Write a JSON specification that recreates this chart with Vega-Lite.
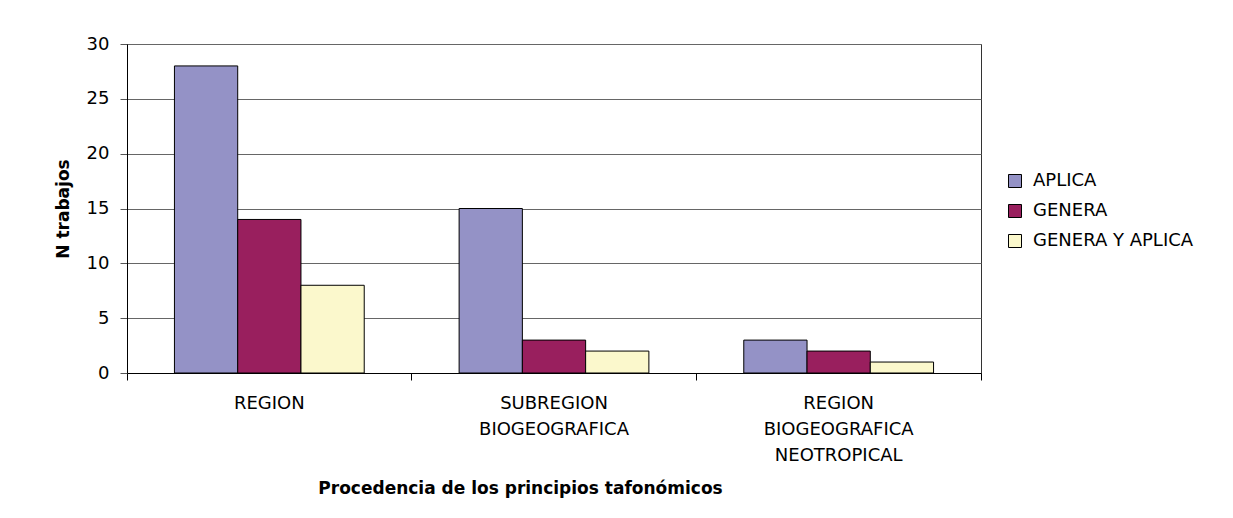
{
  "$schema": "https://vega.github.io/schema/vega-lite/v6.json",
  "width": 854,
  "height": 329,
  "autosize": {"type": "none"},
  "padding": {"left": 127, "top": 44, "right": 252, "bottom": 145},
  "background": "white",
  "config": {
    "font": "DejaVu Sans",
    "view": {"stroke": "#333333", "strokeWidth": 1}
  },
  "data": {
    "values": [
      {"procedencia": "REGION", "tipo": "APLICA", "n": 28},
      {"procedencia": "REGION", "tipo": "GENERA", "n": 14},
      {"procedencia": "REGION", "tipo": "GENERA Y APLICA", "n": 8},
      {"procedencia": "SUBREGION|BIOGEOGRAFICA", "tipo": "APLICA", "n": 15},
      {"procedencia": "SUBREGION|BIOGEOGRAFICA", "tipo": "GENERA", "n": 3},
      {"procedencia": "SUBREGION|BIOGEOGRAFICA", "tipo": "GENERA Y APLICA", "n": 2},
      {"procedencia": "REGION|BIOGEOGRAFICA|NEOTROPICAL", "tipo": "APLICA", "n": 3},
      {"procedencia": "REGION|BIOGEOGRAFICA|NEOTROPICAL", "tipo": "GENERA", "n": 2},
      {"procedencia": "REGION|BIOGEOGRAFICA|NEOTROPICAL", "tipo": "GENERA Y APLICA", "n": 1}
    ]
  },
  "mark": {"type": "bar", "stroke": "black", "strokeWidth": 1},
  "encoding": {
    "x": {
      "field": "procedencia",
      "type": "nominal",
      "sort": ["REGION", "SUBREGION|BIOGEOGRAFICA", "REGION|BIOGEOGRAFICA|NEOTROPICAL"],
      "scale": {"paddingInner": 0, "paddingOuter": 0},
      "axis": {
        "title": "Procedencia de los principios tafonómicos",
        "titleFont": "DejaVu Sans",
        "titleFontSize": 17,
        "titleFontWeight": "bold",
        "titleColor": "black",
        "titlePadding": 16,
        "titleAnchor": "middle",
        "titleX": 393,
        "labelAngle": 0,
        "labelFontSize": 18,
        "labelColor": "black",
        "labelPadding": 14,
        "labelLineHeight": 26,
        "labelExpr": "split(datum.label, '|')",
        "domainColor": "black",
        "tickColor": "black",
        "tickSize": 7,
        "bandPosition": 1,
        "tickExtra": true
      }
    },
    "xOffset": {
      "field": "tipo",
      "type": "nominal",
      "scale": {"paddingInner": 0, "paddingOuter": 0.75}
    },
    "y": {
      "field": "n",
      "type": "quantitative",
      "scale": {"domain": [0, 30], "nice": false},
      "axis": {
        "title": "N trabajos",
        "titleFont": "DejaVu Sans",
        "titleFontSize": 17,
        "titleFontWeight": "bold",
        "titleColor": "black",
        "titlePadding": 14,
        "values": [0, 5, 10, 15, 20, 25, 30],
        "labelFontSize": 18,
        "labelColor": "black",
        "labelPadding": 11,
        "grid": true,
        "gridColor": "#666666",
        "gridWidth": 1,
        "domainColor": "black",
        "tickColor": "#555555",
        "tickSize": 7
      }
    },
    "fill": {
      "field": "tipo",
      "type": "nominal",
      "scale": {
        "domain": ["APLICA", "GENERA", "GENERA Y APLICA"],
        "range": ["#9492C6", "#991F5E", "#FBF8CC"]
      },
      "legend": {
        "title": null,
        "orient": "none",
        "legendX": 879,
        "legendY": 128,
        "symbolType": "square",
        "symbolSize": 169,
        "symbolStrokeColor": "black",
        "symbolStrokeWidth": 1,
        "symbolOpacity": 1,
        "labelFontSize": 18,
        "labelColor": "black",
        "labelOffset": 9,
        "labelLimit": 400,
        "rowPadding": 12
      }
    }
  }
}
